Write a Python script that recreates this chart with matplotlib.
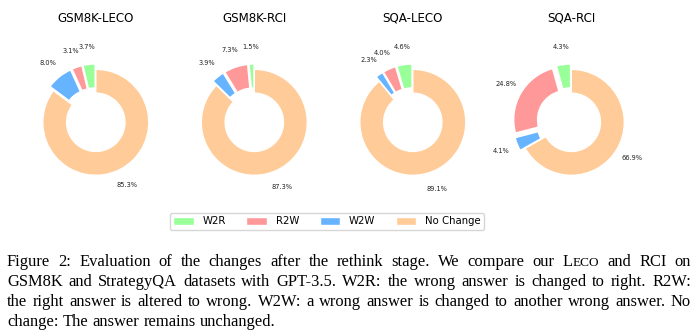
import matplotlib
matplotlib.use("Agg")
import matplotlib.pyplot as plt

# percentages per setting, in wedge order
titles = ["GSM8K-LECO", "GSM8K-RCI", "SQA-LECO", "SQA-RCI"]
labels = ["W2R", "R2W", "W2W", "No Change"]
w2r = [3.7, 1.5, 4.6, 4.3]
r2w = [3.1, 7.3, 4.0, 24.8]
w2w = [8.0, 3.9, 2.3, 4.1]
no_change = [85.3, 87.3, 89.1, 66.9]
colors = ["#99ff99", "#ff9999", "#66b3ff", "#ffcc99"]

caption_lines = [
    "Figure 2: Evaluation of the changes after the rethink stage.  We compare our LECO and RCI on",
    "GSM8K and StrategyQA datasets with GPT-3.5. W2R: the wrong answer is changed to right. R2W:",
    "the right answer is altered to wrong. W2W: a wrong answer is changed to another wrong answer. No",
    "change: The answer remains unchanged.",
]

W, H = 700, 335
fig = plt.figure(figsize=(W / 100, H / 100), dpi=100)

r_px = 53.0
box = 2.5 * r_px
wedges0 = None
for i, title in enumerate(titles):
    cx = 95.8 + 158.5 * i
    cy = H - 122.3
    ax = fig.add_axes([(cx - box / 2) / W, (cy - box / 2) / H, box / W, box / H])
    vals = [w2r[i], r2w[i], w2w[i], no_change[i]]
    it = iter(vals)
    wedges, _, _ = ax.pie(
        vals,
        colors=colors,
        explode=(0.1, 0.1, 0.1, 0),
        startangle=90,
        autopct=lambda p: "%.1f%%" % next(it),
        pctdistance=1.33,
        wedgeprops=dict(width=0.45, edgecolor="white", linewidth=1),
        textprops=dict(fontsize=4.8, color="#222222"),
    )
    if wedges0 is None:
        wedges0 = wedges
    fig.text(cx / W, 1 - 18 / H, title, ha="center", va="center", fontsize=8.6)

fig.legend(
    wedges0,
    labels,
    ncol=4,
    loc="center",
    bbox_to_anchor=(327 / W, 1 - 221.5 / H),
    fontsize=7.3,
    handlelength=2.0,
    handleheight=0.7,
    handletextpad=0.9,
    columnspacing=2.0,
    borderpad=0.3,
)

# caption, justified by hand
fs = 11.9
serif = "Liberation Serif"
renderer = fig.canvas.get_renderer()


def width_of(s, size):
    t = fig.text(0, 0, s, fontsize=size, family=serif)
    w = t.get_window_extent(renderer).width
    t.remove()
    return w


def draw_word(x, y, word):
    if word == "LECO":
        fig.text(x / W, y, "L", fontsize=fs, family=serif, va="baseline")
        x2 = x + width_of("L", fs)
        fig.text(x2 / W, y, "ECO", fontsize=fs * 0.8, family=serif, va="baseline")
        return
    fig.text(x / W, y, word, fontsize=fs, family=serif, va="baseline")


def word_width(word):
    if word == "LECO":
        return width_of("L", fs) + width_of("ECO", fs * 0.8)
    return width_of(word, fs)


left, right = 7.0, 691.0
for k, line in enumerate(caption_lines):
    y = 1 - (265.7 + 20.0 * k) / H
    words = line.split()
    widths = [word_width(wd) for wd in words]
    if k < len(caption_lines) - 1:
        gap = (right - left - sum(widths)) / (len(words) - 1)
    else:
        gap = width_of("a b", fs) - width_of("ab", fs)
    x = left
    for wd, ww in zip(words, widths):
        draw_word(x, y, wd)
        x += ww + gap

fig.savefig("out.png", dpi=100)
